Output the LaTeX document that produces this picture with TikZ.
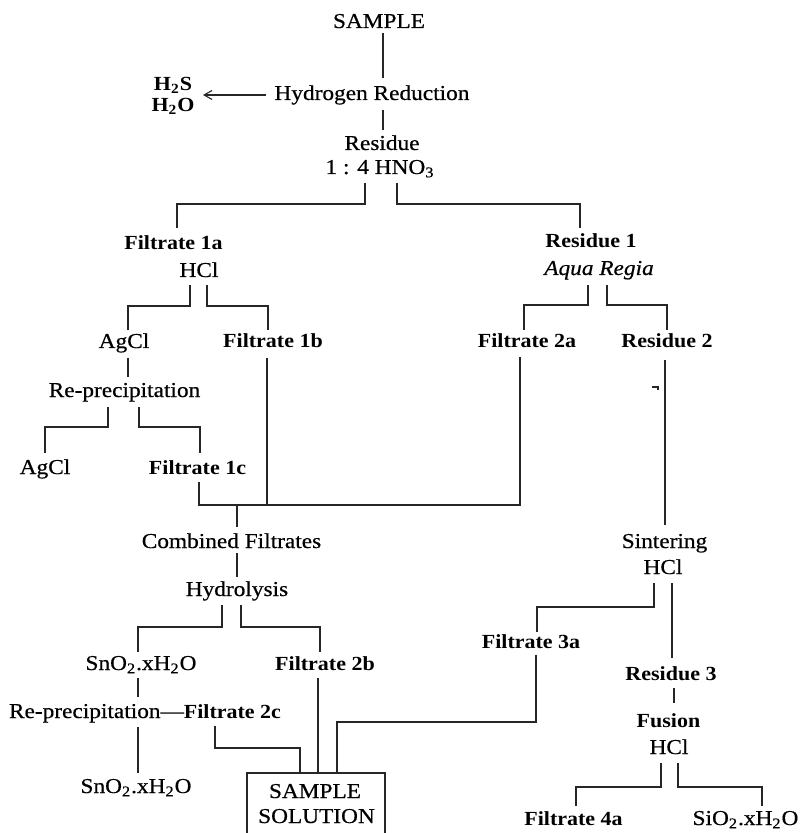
\documentclass[tikz,border=0pt]{standalone}
\usepackage{fontspec}
\setmainfont[FakeStretch=1.1]{Liberation Serif}
\newfontfamily\regf[FakeStretch=1.1,FakeBold=0.5,Ligatures=TeX]{Liberation Serif}
\usetikzlibrary{arrows.meta}
\newcommand{\sbt}[1]{\textsubscript{#1}}
\begin{document}
\begin{tikzpicture}[x=0.5pt,y=-0.5pt,
  ln/.style={line width=0.55pt, draw=black!85},
  txt/.style={anchor=base, inner sep=0pt, font=\regf\fontsize{10.6}{12}\selectfont},
  bt/.style={anchor=base, inner sep=0pt, font=\fontsize{10}{12}\selectfont\bfseries},
  it/.style={anchor=base, inner sep=0pt, font=\regf\fontsize{10.6}{12}\selectfont\itshape}]
\useasboundingbox (0,0) rectangle (810,833);
% ---- nodes
\node[txt] (sample) at (379,28) {SAMPLE};
\node[txt] (hr) at (372,100) {Hydrogen Reduction};
\node[bt] (h2s) at (173,91) {H\sbt{2}S};
\node[bt] (h2o) at (173,112) {H\sbt{2}O};
\node[txt] (res) at (382,150) {Residue};
\node[txt] (hno) at (380,174) {1 : 4 HNO\sbt{3}};
\node[bt] (f1a) at (173.5,250) {Filtrate 1a};
\node[txt] (hcl1) at (199,277) {HCl};
\node[bt] (res1) at (591,248) {Residue 1};
\node[it] (aqua) at (599,275) {Aqua Regia};
\node[txt] (agcl1) at (124,348) {AgCl};
\node[bt] (f1b) at (273,348) {Filtrate 1b};
\node[bt] (f2a) at (527,348) {Filtrate 2a};
\node[bt] (res2) at (667,348) {Residue 2};
\node[txt] (rp1) at (124.5,397) {Re-precipitation};
\node[txt] (agcl2) at (45,474) {AgCl};
\node[bt] (f1c) at (197.5,474) {Filtrate 1c};
\node[txt] (comb) at (231.5,548) {Combined Filtrates};
\node[txt] (hydro) at (237,596) {Hydrolysis};
\node[txt] (sno1) at (141,670) {SnO\sbt{2}.xH\sbt{2}O};
\node[bt] (f2b) at (325,670) {Filtrate 2b};
\node[txt] (rp2) at (145,718) {Re-precipitation—{\fontsize{10}{12}\selectfont\normalfont\bfseries Filtrate 2c}};
\node[txt] (sno2) at (136,793) {SnO\sbt{2}.xH\sbt{2}O};
\node[txt] (ss1) at (315,798) {SAMPLE};
\node[txt] (ss2) at (316.5,823) {SOLUTION};
\node[txt] (sint) at (664.5,548) {Sintering};
\node[txt] (hcl2) at (663,574) {HCl};
\node[bt] (f3a) at (531,648) {Filtrate 3a};
\node[bt] (res3) at (671,680) {Residue 3};
\node[bt] (fus) at (668.5,727) {Fusion};
\node[txt] (hcl3) at (669,754) {HCl};
\node[bt] (f4a) at (573.5,825) {Filtrate 4a};
\node[txt] (sio) at (745.5,825) {SiO\sbt{2}.xH\sbt{2}O};
% ---- coordinates
\coordinate (sampleB) at (383,33);  \coordinate (hrT) at (383,78);
\coordinate (hrB) at (383,110);     \coordinate (resT) at (383,130);
\coordinate (hrL) at (266,95);      \coordinate (h2R) at (203,95);
\coordinate (hnoL) at (365,183);    \coordinate (hnoR) at (397,183);
\coordinate (hnoH) at (0,204);
\coordinate (f1aT) at (177,228);    \coordinate (res1T) at (580,228);
\coordinate (hcl1L) at (190,285);   \coordinate (hcl1R) at (207,285);
\coordinate (hcl1H) at (0,306);
\coordinate (agcl1T) at (128,330);  \coordinate (f1bT) at (268,330);
\coordinate (aquaL) at (588,285);   \coordinate (aquaR) at (607,285);
\coordinate (aquaH) at (0,305);
\coordinate (f2aT) at (524,330);    \coordinate (res2T) at (667,330);
\coordinate (agcl1B) at (128,358);  \coordinate (rp1T) at (128,377);
\coordinate (rp1L) at (108,407);    \coordinate (rp1R) at (139,407);
\coordinate (rp1H) at (0,427);
\coordinate (agcl2T) at (45,453);   \coordinate (f1cT) at (200,453);
\coordinate (f1cB) at (199,482);    \coordinate (f1bB) at (267,358);
\coordinate (f2aB) at (520,357);    \coordinate (combH) at (0,505);
\coordinate (combJ) at (237,505);   \coordinate (combT) at (237,527);
\coordinate (combB) at (237,553);   \coordinate (hydroT) at (237,577);
\coordinate (hyL) at (222,605);     \coordinate (hyR) at (241,605);
\coordinate (hyH) at (0,627);
\coordinate (sno1T) at (138,652);   \coordinate (f2bT) at (320,652);
\coordinate (sno1B) at (138,678);   \coordinate (rp2T) at (138,697);
\coordinate (rp2B) at (138,727);    \coordinate (sno2T) at (138,773);
\coordinate (f2cB) at (215,726);    \coordinate (f2cH) at (0,748);
\coordinate (boxA) at (300,773);    \coordinate (boxB) at (318,773);
\coordinate (boxC) at (337,773);    \coordinate (f2bB) at (318,678);
\coordinate (f3aH) at (0,722);      \coordinate (f3aB) at (536,655);
\coordinate (res2B) at (665,360);   \coordinate (sintT) at (665,525);
\coordinate (hcl2L) at (654,583);   \coordinate (hcl2R) at (672,583);
\coordinate (hcl2H) at (0,607);
\coordinate (f3aT) at (537,632);    \coordinate (res3T) at (672,658);
\coordinate (res3B) at (674,688);   \coordinate (fusT) at (674,703);
\coordinate (hcl3L) at (661,763);   \coordinate (hcl3R) at (678,763);
\coordinate (hcl3H) at (0,787);
\coordinate (f4aT) at (576,806);    \coordinate (sioT) at (762,806);
\coordinate (boxBL) at (247,833);   \coordinate (boxTL) at (247,773);
\coordinate (boxTR) at (385,773);   \coordinate (boxBR) at (385,833);
\coordinate (mark) at (652,387);
% ---- connectors
\draw[ln] (sampleB) -- (hrT);
\draw[ln] (hrB) -- (resT);
\draw[ln,-{Straight Barb[length=4pt,width=4.5pt]}] (hrL) -- (h2R);
\draw[ln] (hnoL) |- (f1aT |- hnoH) -- (f1aT);
\draw[ln] (hnoR) |- (res1T |- hnoH) -- (res1T);
\draw[ln] (hcl1L) |- (agcl1T |- hcl1H) -- (agcl1T);
\draw[ln] (hcl1R) |- (f1bT |- hcl1H) -- (f1bT);
\draw[ln] (aquaL) |- (f2aT |- aquaH) -- (f2aT);
\draw[ln] (aquaR) |- (res2T |- aquaH) -- (res2T);
\draw[ln] (agcl1B) -- (rp1T);
\draw[ln] (rp1L) |- (agcl2T |- rp1H) -- (agcl2T);
\draw[ln] (rp1R) |- (f1cT |- rp1H) -- (f1cT);
\draw[ln] (f1cB) |- (f2aB |- combH) -- (f2aB);
\draw[ln] (f1bB) -- (f1bB |- combH);
\draw[ln] (combJ) -- (combT);
\draw[ln] (combB) -- (hydroT);
\draw[ln] (hyL) |- (sno1T |- hyH) -- (sno1T);
\draw[ln] (hyR) |- (f2bT |- hyH) -- (f2bT);
\draw[ln] (sno1B) -- (rp2T);
\draw[ln] (rp2B) -- (sno2T);
\draw[ln] (f2cB) |- (boxA |- f2cH) -- (boxA);
\draw[ln] (f2bB) -- (boxB);
\draw[ln] (boxC) |- (f3aB |- f3aH) -- (f3aB);
\draw[ln] (res2B) -- (sintT);
\draw[ln] (hcl2L) |- (f3aT |- hcl2H) -- (f3aT);
\draw[ln] (hcl2R) -- (res3T);
\draw[ln] (res3B) -- (fusT);
\draw[ln] (hcl3L) |- (f4aT |- hcl3H) -- (f4aT);
\draw[ln] (hcl3R) |- (sioT |- hcl3H) -- (sioT);
\draw[ln] (boxBL) -- (boxTL) -- (boxTR) -- (boxBR);
\draw[ln] (mark) -- ++(6,0) -- ++(0,3);
\end{tikzpicture}
\end{document}
